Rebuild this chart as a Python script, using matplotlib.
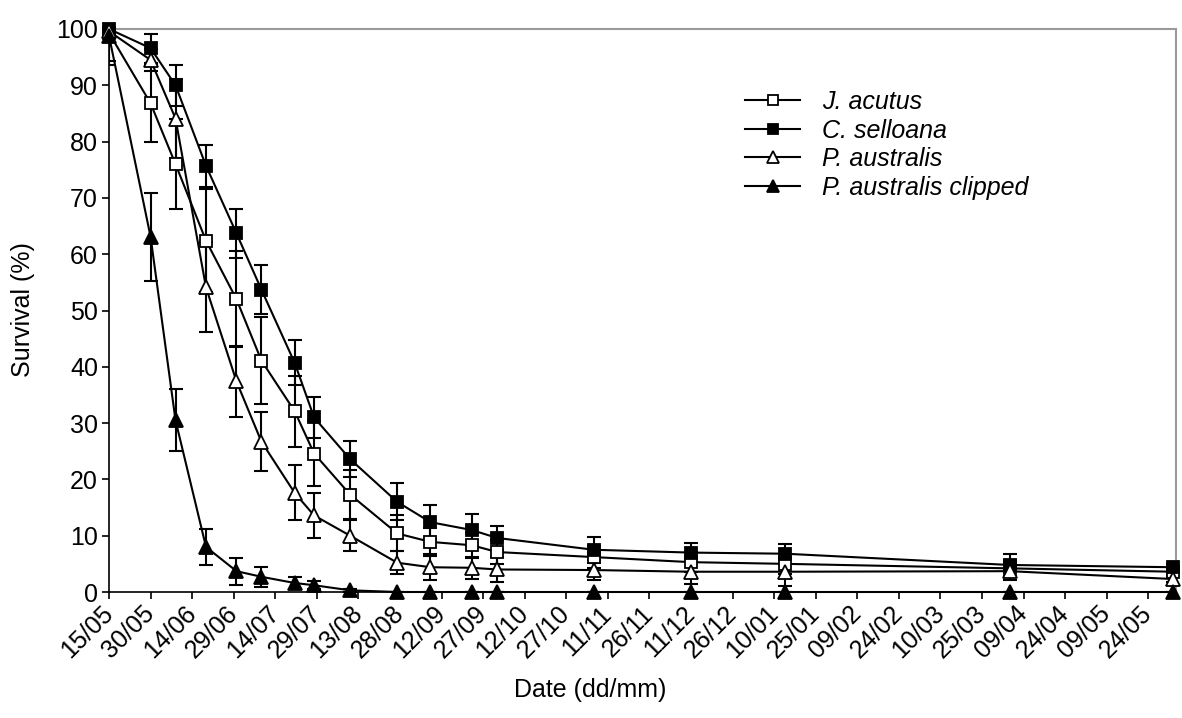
import matplotlib
matplotlib.use("Agg")
import matplotlib.pyplot as plt
from matplotlib.lines import Line2D

plt.rcParams['font.family'] = ['Liberation Sans', 'DejaVu Sans']

# Sampling dates as days elapsed since 15/05
sampling_day = [0, 15, 24, 35, 46, 55, 67, 74, 87, 104, 116, 131, 140, 175, 210, 244, 325, 384]

# Survival (%) means and error-bar half widths per species
j_acutus = [99.3, 86.8, 76.0, 62.4, 52.0, 41.1, 32.1, 24.6, 17.3, 10.4, 8.9, 8.3, 7.1, 6.2, 5.3, 5.0, 4.2, 3.6]
j_acutus_err = [5.0, 6.8, 8.0, 9.2, 8.5, 7.7, 6.3, 5.7, 4.3, 3.2, 2.5, 2.2, 2.2, 2.0, 1.8, 1.8, 1.5, 1.2]

c_selloana = [100.0, 96.6, 90.0, 75.7, 63.7, 53.7, 40.7, 31.0, 23.6, 16.0, 12.4, 11.0, 9.6, 7.5, 7.0, 6.8, 4.8, 4.4]
c_selloana_err = [1.4, 2.6, 3.6, 3.7, 4.3, 4.4, 4.0, 3.6, 3.2, 3.3, 3.0, 2.9, 2.2, 2.3, 1.7, 1.8, 2.0, 0.6]

p_australis = [99.6, 94.5, 84.1, 54.1, 37.4, 26.7, 17.6, 13.6, 10.0, 5.2, 4.4, 4.3, 4.0, 3.9, 3.6, 3.6, 3.7, 2.3]
p_australis_err = [1.0, 2.0, 7.0, 8.0, 6.3, 5.2, 4.9, 4.0, 2.7, 2.0, 2.3, 2.0, 2.3, 1.8, 2.2, 2.6, 1.5, 0.5]

p_australis_clipped = [98.8, 63.1, 30.5, 8.0, 3.7, 2.7, 1.6, 1.2, 0.3, 0, 0, 0, 0, 0, 0, 0, 0, 0]
p_australis_clipped_err = [5.2, 7.8, 5.5, 3.2, 2.4, 1.8, 1.1, 0.7, 0.3, 0, 0, 0, 0, 0, 0, 0, 0, 0]

tick_labels = ["15/05", "30/05", "14/06", "29/06", "14/07", "29/07", "13/08", "28/08",
               "12/09", "27/09", "12/10", "27/10", "11/11", "26/11", "11/12", "26/12",
               "10/01", "25/01", "09/02", "24/02", "10/03", "25/03", "09/04", "24/04",
               "09/05", "24/05"]
tick_step = 15

series = [
    ("J. acutus", j_acutus, j_acutus_err, 's', 'white', 9),
    ("C. selloana", c_selloana, c_selloana_err, 's', 'black', 9),
    ("P. australis", p_australis, p_australis_err, '^', 'white', 10.5),
    ("P. australis clipped", p_australis_clipped, p_australis_clipped_err, '^', 'black', 10.5),
]

fig = plt.figure(figsize=(11.82, 7.18), dpi=100)
ax = fig.add_axes([109 / 1182, 1 - 592 / 718, (1176 - 109) / 1182, (592 - 29) / 718])

handles = []
for name, vals, errs, mk, face, ms in series:
    ax.errorbar(sampling_day, vals, yerr=errs, fmt='none', ecolor='black',
                elinewidth=1.5, capsize=5.2, capthick=1.5, zorder=2)
    ax.plot(sampling_day, vals, color='black', lw=1.5, marker=mk, ms=ms,
            mfc=face, mec='black', mew=1.3, zorder=3, clip_on=False)
    handles.append(Line2D([], [], color='black', lw=1.5, marker=mk, ms=ms - 1.5,
                          mfc=face, mec='black', mew=1.3, label=name))

ax.set_xlim(0, 385)
ax.set_ylim(0, 100)
ax.set_yticks(range(0, 101, 10))
ax.set_xticks([i * tick_step for i in range(len(tick_labels))])
ax.set_xticklabels(tick_labels, rotation=45, ha='right', va='center',
                   rotation_mode='anchor')

ax.tick_params(axis='both', labelsize=18, direction='out', length=5, width=1.2,
               color='black')
ax.tick_params(axis='x', pad=8)
ax.tick_params(axis='y', pad=3)

for side in ('left', 'bottom'):
    ax.spines[side].set_color('black')
    ax.spines[side].set_linewidth(1.2)
for side in ('top', 'right'):
    ax.spines[side].set_color('#9a9a9a')
    ax.spines[side].set_linewidth(1.5)

fig.text(590 / 1182, 1 - 690 / 718, "Date (dd/mm)", fontsize=18, ha='center', va='center')
fig.text(23 / 1182, 1 - 310 / 718, "Survival (%)", fontsize=18, ha='center', va='center',
         rotation=90)

leg = fig.legend(handles=handles, loc='upper left',
                 bbox_to_anchor=(745 / 1182, 1 - 90 / 718), frameon=False,
                 prop={'style': 'italic', 'size': 18},
                 handlelength=2.2, handletextpad=0.9, labelspacing=0.18,
                 borderpad=0, borderaxespad=0)

fig.savefig("out.png", dpi=100)
